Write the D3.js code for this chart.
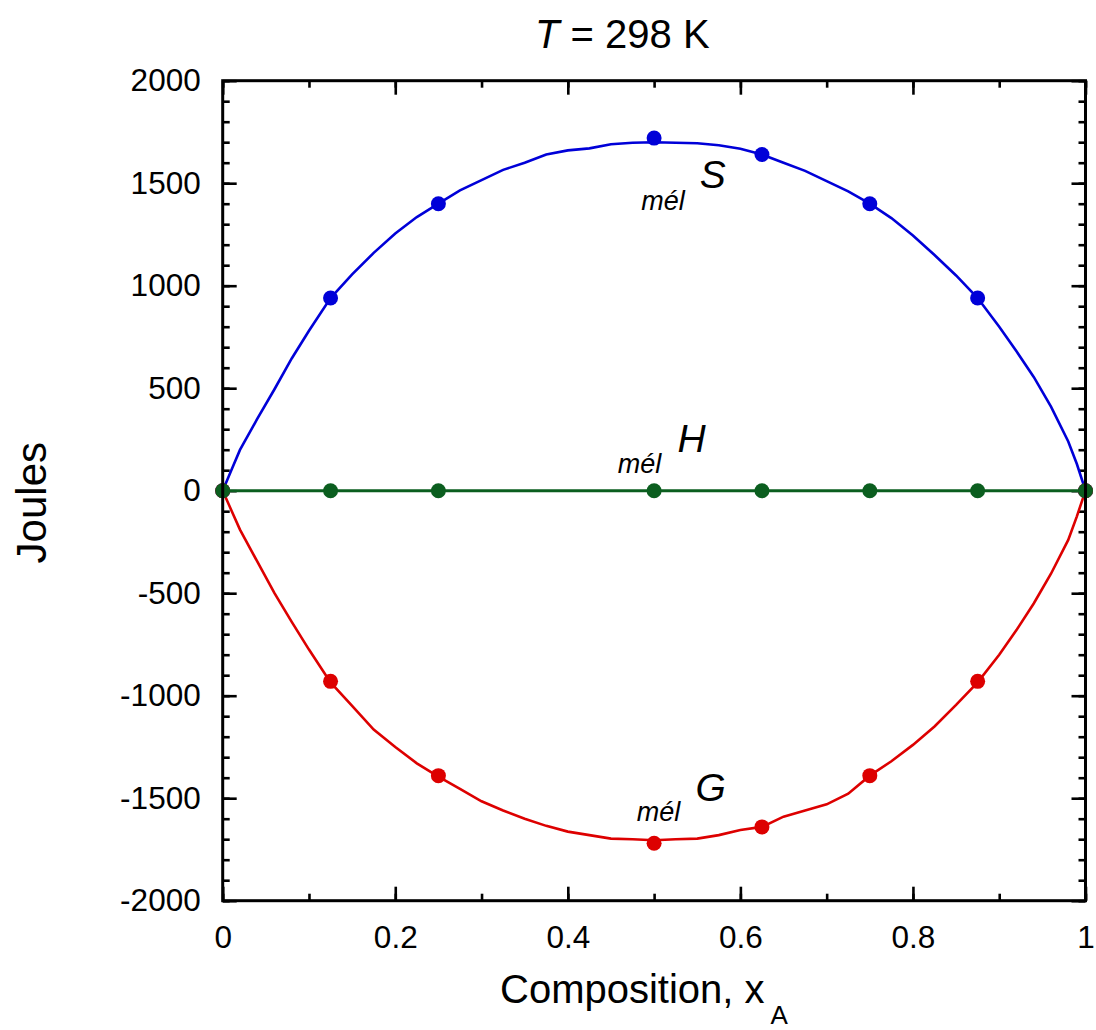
<!DOCTYPE html>
<html>
<head>
    <title>T = 298 K</title>
    <script src="https://d3js.org/d3.v7.min.js"></script>
    <style>
        body { margin: 0; background: #fff; }
        svg { display: block; font-family: "Liberation Sans", Arial, sans-serif; }
    </style>
</head>
<body>
    <svg width="1096" height="1030"></svg>

    <script>
        const xCurve = [0, 0.01, 0.02, 0.04, 0.06, 0.08, 0.1, 0.125, 0.15, 0.175, 0.2, 0.225, 0.25,
            0.275, 0.3, 0.325, 0.35, 0.375, 0.4, 0.425, 0.45, 0.475, 0.5, 0.525, 0.55, 0.575, 0.6,
            0.625, 0.65, 0.675, 0.7, 0.725, 0.75, 0.775, 0.8, 0.825, 0.85, 0.875, 0.9, 0.92, 0.94,
            0.96, 0.98, 0.99, 1];
        // T*dS (blue) curve
        const sCurve = [0, 100, 199, 350, 495, 645, 780, 940, 1055, 1160, 1255, 1335, 1400,
            1465, 1515, 1565, 1600, 1640, 1660, 1670, 1690, 1697, 1700, 1697, 1695, 1685, 1668,
            1640, 1600, 1560, 1510, 1460, 1400, 1330, 1245, 1150, 1050, 940, 800, 680, 555,
            410, 240, 130, 0];
        // dG (red) curve
        const gCurve = [0, -95, -190, -345, -500, -640, -775, -935, -1050, -1165, -1250, -1330, -1395,
            -1455, -1515, -1560, -1600, -1635, -1663, -1680, -1697, -1700, -1705, -1700, -1697, -1680, -1655,
            -1640, -1590, -1560, -1530, -1478, -1390, -1320, -1240, -1150, -1045, -935, -800, -680, -550,
            -405, -240, -125, 0];

        // measured points
        const xPoints = [0, 0.125, 0.25, 0.5, 0.625, 0.75, 0.875, 1];
        const sPoints = [0, 940, 1400, 1720, 1640, 1400, 940, 0];
        const gPoints = [0, -930, -1390, -1720, -1640, -1390, -930, 0];
        const hPoints = [0, 0, 0, 0, 0, 0, 0, 0];

        const xTicks = [0, 0.2, 0.4, 0.6, 0.8, 1];
        const yTicks = [-2000, -1500, -1000, -500, 0, 500, 1000, 1500, 2000];

        const svg = d3.select("svg");
        const margin = { top: 80.7, left: 222.7 };
        const width = 862.8;
        const height = 820;
        const chart = svg.append("g")
            .attr("transform", `translate(${margin.left},${margin.top})`);

        const x = d3.scaleLinear().domain([0, 1]).range([0, width]);
        const y = d3.scaleLinear().domain([-2000, 2000]).range([height, 0]);

        const fontSize = 31.5;
        const plain = d => String(d); // keep hyphen minus like the original

        // minor ticks, all four sides
        const minorX = d3.range(0, 1.0001, 0.1);
        const minorY = d3.range(-2000, 2001, 100);
        function tickStyle(g) {
            g.select(".domain").remove();
            g.selectAll(".tick line").attr("stroke", "#000").attr("stroke-width", 2.6);
        }
        chart.append("g").attr("transform", `translate(0,${height})`)
            .call(d3.axisBottom(x).tickValues(minorX).tickSize(-7).tickFormat(""))
            .call(tickStyle);
        chart.append("g")
            .call(d3.axisTop(x).tickValues(minorX).tickSize(-7).tickFormat(""))
            .call(tickStyle);
        chart.append("g")
            .call(d3.axisLeft(y).tickValues(minorY).tickSize(-7).tickFormat(""))
            .call(tickStyle);
        chart.append("g").attr("transform", `translate(${width},0)`)
            .call(d3.axisRight(y).tickValues(minorY).tickSize(-7).tickFormat(""))
            .call(tickStyle);

        // major ticks
        const xAxis = chart.append("g").attr("transform", `translate(0,${height})`)
            .call(d3.axisBottom(x).tickValues(xTicks).tickSize(-14).tickPadding(25).tickFormat(plain))
            .call(tickStyle);
        chart.append("g")
            .call(d3.axisTop(x).tickValues(xTicks).tickSize(-14).tickFormat(""))
            .call(tickStyle);
        const yAxis = chart.append("g")
            .call(d3.axisLeft(y).tickValues(yTicks).tickSize(-14).tickPadding(22).tickFormat(plain))
            .call(tickStyle);
        chart.append("g").attr("transform", `translate(${width},0)`)
            .call(d3.axisRight(y).tickValues(yTicks).tickSize(-14).tickFormat(""))
            .call(tickStyle);

        xAxis.selectAll("text").attr("font-size", fontSize).attr("fill", "#000")
            .attr("font-family", "Liberation Sans, Arial, sans-serif");
        yAxis.selectAll("text").attr("font-size", fontSize).attr("fill", "#000")
            .attr("font-family", "Liberation Sans, Arial, sans-serif");

        // curves
        const line = d3.line().x(d => x(d[0])).y(d => y(d[1]));
        chart.append("path")
            .datum(xCurve.map((v, i) => [v, sCurve[i]]))
            .attr("fill", "none").attr("stroke", "#0000d8").attr("stroke-width", 2.6)
            .attr("d", line);
        chart.append("path")
            .datum(xCurve.map((v, i) => [v, gCurve[i]]))
            .attr("fill", "none").attr("stroke", "#dd0000").attr("stroke-width", 2.6)
            .attr("d", line);

        chart.selectAll(".ptS").data(xPoints.map((v, i) => [v, sPoints[i]])).enter()
            .append("circle").attr("cx", d => x(d[0])).attr("cy", d => y(d[1]))
            .attr("r", 7.5).attr("fill", "#0000d8");
        chart.selectAll(".ptG").data(xPoints.map((v, i) => [v, gPoints[i]])).enter()
            .append("circle").attr("cx", d => x(d[0])).attr("cy", d => y(d[1]))
            .attr("r", 7.5).attr("fill", "#dd0000");

        chart.append("path")
            .datum(xPoints.map((v, i) => [v, hPoints[i]]))
            .attr("fill", "none").attr("stroke", "#0b5e1f").attr("stroke-width", 3)
            .attr("d", line);
        chart.selectAll(".ptH").data(xPoints.map((v, i) => [v, hPoints[i]])).enter()
            .append("circle").attr("cx", d => x(d[0])).attr("cy", d => y(d[1]))
            .attr("r", 7.5).attr("fill", "#0b5e1f");

        // frame
        chart.append("rect")
            .attr("width", width).attr("height", height)
            .attr("fill", "none").attr("stroke", "#000").attr("stroke-width", 3);

        // curve labels
        function curveLabel(xs, ys, letter, xl, yl) {
            chart.append("text")
                .attr("x", x(xs)).attr("y", y(ys))
                .attr("font-size", 27).attr("font-style", "italic")
                .text("mél");
            chart.append("text")
                .attr("x", x(xl)).attr("y", y(yl))
                .attr("font-size", 39).attr("font-style", "italic")
                .text(letter);
        }
        curveLabel(0.485, 1370, "S", 0.553, 1475);
        curveLabel(0.458, 85, "H", 0.527, 188);
        curveLabel(0.480, -1610, "G", 0.548, -1512);

        // title
        const title = svg.append("text")
            .attr("x", 535).attr("y", 48)
            .attr("font-size", 40);
        title.append("tspan").attr("font-style", "italic").text("T");
        title.append("tspan").text(" = 298 K");

        // axis titles
        const xTitle = svg.append("text")
            .attr("x", 500).attr("y", 1003)
            .attr("font-size", 40);
        xTitle.append("tspan").text("Composition, x");
        xTitle.append("tspan").attr("font-size", 26).attr("dx", 6).attr("dy", 21).text("A");

        svg.append("text")
            .attr("transform", `translate(46,${margin.top + height / 2 + 12}) rotate(-90)`)
            .attr("text-anchor", "middle")
            .attr("font-size", 42)
            .text("Joules");
    </script>
</body>
</html>
